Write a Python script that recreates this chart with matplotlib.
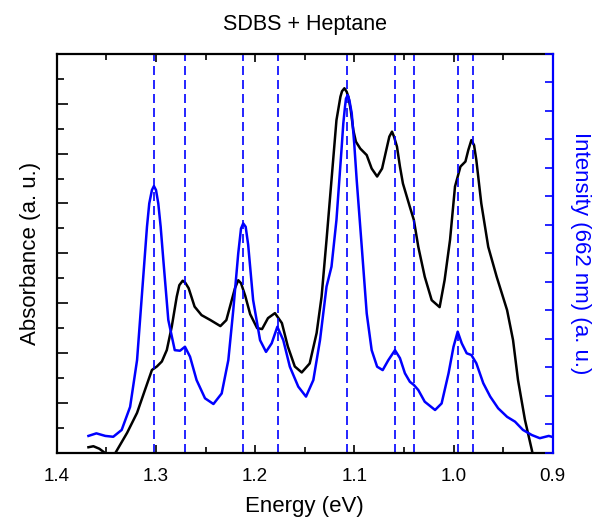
import matplotlib
matplotlib.use("Agg")
import matplotlib.pyplot as plt
from matplotlib.ticker import MultipleLocator, NullFormatter

plt.rcParams["font.family"] = ["Liberation Sans", "DejaVu Sans"]

# absorbance trace (left axis, arbitrary units)
abs_energy = [1.368, 1.363, 1.357, 1.351, 1.346, 1.341, 1.329, 1.319, 1.311, 1.304,
              1.299, 1.294, 1.289, 1.284, 1.279, 1.2764, 1.273, 1.2704, 1.267, 1.261,
              1.254, 1.245, 1.235, 1.229, 1.2203, 1.217, 1.2142, 1.210, 1.205, 1.198,
              1.193, 1.187, 1.180, 1.173, 1.167, 1.160, 1.153, 1.145, 1.138, 1.133,
              1.128, 1.123, 1.118, 1.114, 1.1124, 1.110, 1.1077, 1.106, 1.1036, 1.101,
              1.0984, 1.094, 1.0875, 1.0825, 1.077, 1.072, 1.067, 1.0647, 1.062, 1.060,
              1.057, 1.054, 1.051, 1.044, 1.040, 1.0355, 1.029, 1.022, 1.014, 1.009,
              1.0035, 0.9985, 0.993, 0.988, 0.9851, 0.982, 0.9793, 0.977, 0.972, 0.965,
              0.9565, 0.946, 0.940, 0.935, 0.928, 0.921, 0.915]
abs_values = [0.11, 0.13, 0.08, -0.01, -0.15, -0.01, 0.40, 0.80, 1.26, 1.66,
              1.73, 1.83, 2.06, 2.53, 3.13, 3.36, 3.45, 3.41, 3.30, 2.93,
              2.76, 2.66, 2.54, 2.66, 3.30, 3.46, 3.40, 3.15, 2.78, 2.50,
              2.48, 2.70, 2.80, 2.60, 2.13, 1.73, 1.61, 1.79, 2.40, 3.13,
              4.27, 5.47, 6.67, 7.14, 7.25, 7.31, 7.24, 7.14, 6.87, 6.47,
              6.24, 6.10, 5.97, 5.70, 5.54, 5.70, 6.14, 6.34, 6.44, 6.34,
              6.14, 5.74, 5.40, 4.93, 4.67, 4.13, 3.53, 3.06, 2.92, 3.46,
              4.27, 5.34, 5.74, 5.84, 6.07, 6.27, 6.17, 5.87, 5.00, 4.13,
              3.53, 2.86, 2.26, 1.46, 0.66, 0.05, -0.50]

# PL intensity at 662 nm excitation (right axis)
pl_energy = [1.368, 1.360, 1.351, 1.343, 1.3345, 1.326, 1.319, 1.314, 1.309, 1.3067,
             1.304, 1.302, 1.2999, 1.2976, 1.2952, 1.2925, 1.2875, 1.281, 1.2757, 1.2707,
             1.2656, 1.259, 1.2505, 1.242, 1.2337, 1.227, 1.222, 1.217, 1.2142, 1.212,
             1.2095, 1.207, 1.202, 1.195, 1.189, 1.1833, 1.1776, 1.1716, 1.165, 1.1565,
             1.1487, 1.1413, 1.1346, 1.128, 1.123, 1.118, 1.1127, 1.1111, 1.1094, 1.1084,
             1.1067, 1.105, 1.1026, 1.1001, 1.0976, 1.0925, 1.0875, 1.0825, 1.077, 1.0714,
             1.0657, 1.059, 1.054, 1.049, 1.044, 1.040, 1.0355, 1.029, 1.0186, 1.012,
             1.005, 1.000, 0.9958, 0.9917, 0.9867, 0.982, 0.977, 0.970, 0.963, 0.955,
             0.946, 0.938, 0.930, 0.921, 0.913, 0.904, 0.901]
pl_values = [0.59, 0.68, 0.59, 0.56, 0.80, 1.61, 3.25, 5.59, 7.93, 8.75,
             9.22, 9.36, 9.22, 8.75, 7.93, 6.76, 4.66, 3.60, 3.58, 3.72,
             3.37, 2.55, 1.91, 1.71, 2.08, 3.25, 5.01, 7.00, 7.87, 8.05,
             7.93, 7.30, 5.36, 3.95, 3.54, 3.84, 4.42, 3.95, 3.02, 2.32,
             1.97, 2.55, 3.95, 5.83, 6.53, 8.17, 10.74, 11.56, 12.14, 12.43,
             12.55, 12.38, 11.91, 10.86, 9.57, 7.23, 4.89, 3.60, 3.02, 2.90,
             3.25, 3.60, 3.32, 2.79, 2.49, 2.38, 2.20, 1.79, 1.50, 1.73,
             2.79, 3.72, 4.25, 3.84, 3.49, 3.43, 3.14, 2.44, 1.97, 1.56,
             1.26, 1.09, 0.80, 0.62, 0.51, 0.59, 0.56]

# assigned transition energies (dashed markers)
peak_energies = [1.302, 1.271, 1.212, 1.177, 1.107, 1.059, 1.040, 0.995, 0.980]

fig = plt.figure(figsize=(6.0, 5.19), dpi=100)
ax = fig.add_axes([0.0945, 0.1277, 0.8267, 0.7685])
ax2 = ax.twinx()

ax.plot(abs_energy, abs_values, color="black", lw=1.8, solid_joinstyle="round")
ax2.plot(pl_energy, pl_values, color="blue", lw=1.8, solid_joinstyle="round")
for e in peak_energies:
    ax.axvline(e, color="blue", lw=1.2, ls=(0, (5.4, 3)))

ax.set_xlim(1.4, 0.9)
ax.set_ylim(0, 8)
ax2.set_ylim(0, 14)

ax.xaxis.set_minor_locator(MultipleLocator(0.05))
ax.set_xticks([1.4, 1.3, 1.2, 1.1, 1.0, 0.9])
ax.set_xticklabels(["1.4", "1.3", "1.2", "1.1", "1.0", "0.9"])
ax.yaxis.set_major_locator(MultipleLocator(1))
ax.yaxis.set_minor_locator(MultipleLocator(0.5))
ax.yaxis.set_major_formatter(NullFormatter())
ax2.yaxis.set_major_locator(MultipleLocator(1))
ax2.yaxis.set_major_formatter(NullFormatter())

ax.tick_params(axis="x", which="both", direction="in", top=True, labelsize=13.5, pad=11)
ax.tick_params(axis="x", which="major", length=6, width=1.2)
ax.tick_params(axis="x", which="minor", length=4, width=1.2)
ax.tick_params(axis="y", which="major", direction="in", length=8, width=1.2)
ax.tick_params(axis="y", which="minor", direction="in", length=5, width=1.2)
ax2.tick_params(axis="y", direction="in", length=6, width=1.2, color="blue")

for side in ["left", "bottom", "top"]:
    ax.spines[side].set_linewidth(1.6)
ax.spines["right"].set_visible(False)
for side in ["left", "bottom", "top"]:
    ax2.spines[side].set_visible(False)
ax2.spines["right"].set_color("blue")
ax2.spines["right"].set_linewidth(1.6)

ax.set_title("SDBS + Heptane", fontsize=15.5, pad=17)
ax.set_xlabel("Energy (eV)", fontsize=16, labelpad=8)
ax.set_ylabel("Absorbance (a. u.)", fontsize=16, labelpad=8)
ax2.set_ylabel("Intensity (662 nm) (a. u.)", fontsize=16, color="blue",
               rotation=-90, labelpad=24)

fig.savefig("out.png", dpi=100)
